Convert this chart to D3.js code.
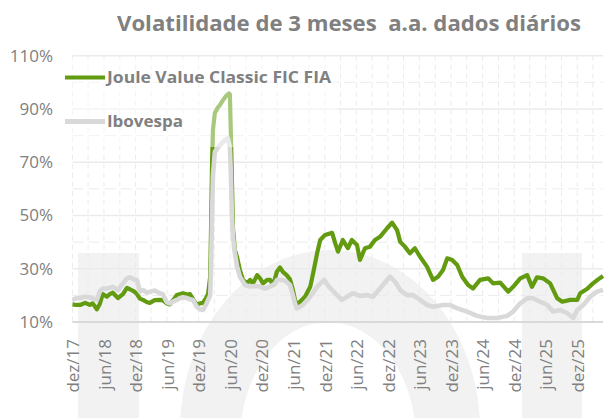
<!DOCTYPE html>
<html><head><meta charset="utf-8">
<script src="https://cdn.jsdelivr.net/npm/d3@7"></script>
<style>html,body{margin:0;padding:0;background:#fff;} svg{display:block;} text{white-space:pre;}</style>
</head><body>
<svg id="chart" width="613" height="418"></svg>
<script>
const chartTitle = "Volatilidade de 3 meses  a.a. dados diários";
const seriesNames = ["Joule Value Classic FIC FIA", "Ibovespa"];
const yMajorTicks = [10, 30, 50, 70, 90, 110];
const yMinorTicks = [20, 40, 60, 80, 100];
const xTickLabels = ["dez/17","jun/18","dez/18","jun/19","dez/19","jun/20","dez/20","jun/21","dez/21","jun/22","dez/22","jun/23","dez/23","jun/24","dez/24","jun/25","dez/25"];
const xTickDates = ["2017-12-01","2018-06-01","2018-12-01","2019-06-01","2019-12-01","2020-06-01","2020-12-01","2021-06-01","2021-12-01","2022-06-01","2022-12-01","2023-06-01","2023-12-01","2024-06-01","2024-12-01","2025-06-01","2025-12-01"];
const xDomain = ["2017-12-01", "2026-04-29"];

const jouleDates = ["2017-12-01","2017-12-21","2018-01-14","2018-02-12","2018-03-11","2018-03-28","2018-04-21","2018-05-08","2018-05-25","2018-06-18","2018-07-05","2018-07-22","2018-08-21","2018-09-19","2018-10-12","2018-10-29","2018-11-22","2018-12-09","2018-12-26","2019-01-13","2019-02-06","2019-02-22","2019-03-22","2019-04-20","2019-05-07","2019-05-30","2019-06-17","2019-07-10","2019-07-28","2019-09-02","2019-09-24","2019-10-12","2019-11-04","2019-11-21","2019-12-09","2019-12-26","2020-01-13","2020-01-25","2020-02-06","2020-02-11","2020-02-17","2020-02-22","2020-03-04","2020-03-21","2020-04-03","2020-04-20","2020-05-07","2020-05-24","2020-05-30","2020-06-05","2020-06-11","2020-06-17","2020-06-23","2020-06-28","2020-07-10","2020-07-27","2020-08-14","2020-09-07","2020-09-24","2020-10-11","2020-11-04","2020-11-21","2020-12-08","2021-01-01","2021-01-18","2021-02-05","2021-02-26","2021-03-16","2021-04-02","2021-04-25","2021-05-13","2021-05-30","2021-06-11","2021-06-22","2021-07-10","2021-08-08","2021-09-07","2021-09-24","2021-10-17","2021-11-04","2021-12-02","2022-01-12","2022-01-30","2022-02-15","2022-03-15","2022-04-13","2022-05-06","2022-06-05","2022-06-22","2022-07-21","2022-08-19","2022-09-17","2022-10-16","2022-11-26","2022-12-25","2023-01-23","2023-02-10","2023-03-09","2023-04-07","2023-05-06","2023-06-05","2023-07-15","2023-08-19","2023-09-17","2023-10-16","2023-11-09","2023-12-08","2024-01-06","2024-02-04","2024-03-09","2024-04-07","2024-05-17","2024-07-03","2024-08-01","2024-09-11","2024-10-27","2024-11-25","2025-01-05","2025-02-14","2025-03-14","2025-04-12","2025-05-17","2025-06-27","2025-08-07","2025-09-05","2025-10-21","2025-12-01","2025-12-18","2026-01-28","2026-03-02","2026-04-01","2026-04-29"];
const jouleVals = [16.6,16.4,16.4,17.2,16.4,17.0,14.8,16.8,20.5,19.5,20.5,21.0,19.0,20.5,22.8,22.3,21.5,20.5,18.8,18.3,17.4,17.2,18.2,18.3,18.2,17.0,16.6,18.5,20.1,20.8,20.3,20.5,18.0,16.5,17.0,17.2,19.0,20.5,27,45,70,82,88.5,90.5,91.5,93.3,94.8,95.8,95.5,80,63,45,40.8,37,34.5,29.5,25.8,24.6,25.8,24.5,27.6,26.4,24.5,25.8,25.8,23.9,28.9,30.5,28.8,27.5,26,22,18.3,16.4,17.6,19.5,23.2,28.3,35.8,40.8,42.7,43.5,39.5,36.4,40.8,37.7,40.8,38.9,33.3,37.7,38.3,40.8,42,45.2,47.3,44.5,40.1,38.3,35.8,37.7,34.5,30.8,25.8,27,29.5,33.9,33.3,31.4,27,23.9,22.6,25.8,26.4,24.5,24.8,21.4,23.2,26.4,27.6,23.2,26.8,26.4,24.5,18.9,17.6,18.3,18.3,20.8,22.5,24.5,26,27.3];

const iboDates = ["2017-12-01","2017-12-21","2018-01-14","2018-02-12","2018-03-11","2018-03-28","2018-04-21","2018-05-08","2018-05-25","2018-06-18","2018-07-22","2018-08-21","2018-09-19","2018-10-12","2018-10-29","2018-11-22","2018-12-09","2018-12-26","2019-01-13","2019-02-06","2019-02-22","2019-03-22","2019-04-20","2019-05-07","2019-05-30","2019-06-17","2019-07-10","2019-07-28","2019-08-14","2019-09-02","2019-09-24","2019-10-12","2019-10-29","2019-11-21","2019-12-09","2019-12-26","2020-01-13","2020-01-25","2020-02-06","2020-02-11","2020-02-17","2020-02-22","2020-03-04","2020-03-21","2020-04-03","2020-05-01","2020-05-18","2020-05-30","2020-06-05","2020-06-11","2020-06-17","2020-06-28","2020-07-10","2020-07-27","2020-08-26","2020-09-24","2020-10-23","2020-11-21","2020-12-20","2021-01-18","2021-02-16","2021-02-26","2021-04-02","2021-04-25","2021-05-13","2021-05-30","2021-06-11","2021-06-22","2021-07-27","2021-09-07","2021-10-17","2021-11-26","2021-12-25","2022-01-30","2022-03-09","2022-04-08","2022-05-12","2022-06-22","2022-08-02","2022-09-06","2022-10-16","2022-11-26","2022-12-13","2023-01-12","2023-02-10","2023-03-21","2023-04-25","2023-06-05","2023-07-15","2023-08-19","2023-10-16","2023-11-26","2024-01-06","2024-03-03","2024-04-30","2024-06-27","2024-08-24","2024-10-21","2024-11-25","2025-01-05","2025-02-14","2025-03-20","2025-04-30","2025-06-10","2025-07-14","2025-08-24","2025-10-04","2025-11-08","2025-12-01","2026-01-05","2026-02-14","2026-03-25","2026-04-29"];
const iboVals = [18.3,18.9,19.0,19.5,19.3,18.9,18.3,21.4,22.6,22.6,23.2,22.0,24.5,26.4,26.8,26.0,25.8,21.4,22.0,21.0,21.4,21.8,20.8,20.5,17.5,17.0,17.8,18.3,18.9,19.3,19.0,18.5,18.3,15.7,14.8,14.5,16.5,18.3,20,30,50,65,73.9,75.5,76.4,78.3,79,75.8,65,50,42,35.9,31,27,23.9,23.3,23.5,23.3,22.5,23.3,24.5,25.8,25.8,25,23.9,20,17,15.1,16.4,19.5,23.2,25.8,23.2,20.8,18.3,19.5,20.8,19.8,20.1,19.5,22.6,25.8,27,25.1,22,20.1,20.1,18.3,16.4,15.7,16.4,16.4,15.1,13.9,12.3,11.5,11.5,12.3,13.9,17,18.9,18.9,17.6,16.4,13.9,14.5,13.3,11.5,14.5,16.4,19.5,21.4,22];

const colors = {joule: "#629b10", ibov: "#d9d9d9", text: "#808080", grid: "#ebebeb", axis: "#d9d9d9", mark: "#f2f2f2"};

const svg = d3.select("#chart");
const parse = d3.timeParse("%Y-%m-%d");
const plot = {left: 72.5, right: 603, top: 55.7, bottom: 322};

const x = d3.scaleTime().domain(xDomain.map(parse)).range([plot.left, plot.right]);
const y = d3.scaleLinear().domain([10, 110]).range([plot.bottom, plot.top]);

// watermark (background logo)
const wm = svg.append("g").attr("fill", colors.mark);
wm.append("rect").attr("x", 78).attr("y", 253).attr("width", 61).attr("height", 170);
wm.append("path").attr("fill-rule", "evenodd")
  .attr("d", "M180,430 a150,180 0 1,0 300,0 a150,180 0 1,0 -300,0 Z M240,440 a88,118 0 1,0 176,0 a88,118 0 1,0 -176,0 Z");
wm.append("rect").attr("x", 522).attr("y", 253).attr("width", 60).attr("height", 170);

// gridlines
const grid = svg.append("g");
const minorMonths = d3.timeMonth.range(parse(xDomain[0]), parse(xDomain[1])).filter(d => (d.getMonth() + 1) % 3 === 0);
grid.selectAll("line.vx").data(minorMonths).join("line")
  .attr("x1", d => x(d)).attr("x2", d => x(d))
  .attr("y1", plot.top).attr("y2", plot.bottom)
  .attr("stroke", colors.grid).attr("stroke-width", 1).attr("stroke-dasharray", "5,4");
grid.selectAll("line.hm").data(yMinorTicks).join("line")
  .attr("x1", plot.left).attr("x2", plot.right)
  .attr("y1", d => y(d)).attr("y2", d => y(d))
  .attr("stroke", colors.grid).attr("stroke-width", 1).attr("stroke-dasharray", "11,5");
grid.selectAll("line.hM").data(yMajorTicks).join("line")
  .attr("x1", plot.left).attr("x2", plot.right)
  .attr("y1", d => y(d)).attr("y2", d => y(d))
  .attr("stroke", d => d === 10 ? colors.axis : colors.grid)
  .attr("stroke-width", d => d === 10 ? 2 : 1.4);

// y axis labels
const yAxis = d3.axisLeft(y).tickValues(yMajorTicks).tickFormat(d => d + "%").tickSize(0).tickPadding(0);
const gy = svg.append("g").attr("transform", "translate(53,0)").call(yAxis);
gy.select(".domain").remove();
gy.selectAll("text").attr("fill", colors.text).attr("font-family", "'Open Sans', sans-serif").attr("font-size", 17);

// x axis labels
const xAxis = d3.axisBottom(x).tickValues(xTickDates.map(parse))
  .tickFormat((d, i) => xTickLabels[i]).tickSize(0).tickPadding(0);
const gx = svg.append("g").attr("transform", "translate(0,339)").call(xAxis);
gx.select(".domain").remove();
gx.selectAll("text")
  .attr("fill", colors.text).attr("font-family", "'Open Sans', sans-serif").attr("font-size", 17)
  .attr("text-anchor", "end").attr("transform", "rotate(-90)")
  .attr("x", 0).attr("y", 0).attr("dy", "0.36em");

// lines
const line = d3.line().x(d => x(d[0])).y(d => y(d[1])).curve(d3.curveLinear);
const jouleData = jouleDates.map((d, i) => [parse(d), jouleVals[i]]);
const iboData = iboDates.map((d, i) => [parse(d), iboVals[i]]);
svg.append("path").datum(jouleData).attr("d", line).attr("fill", "none")
  .attr("stroke", colors.joule).attr("stroke-width", 4.2).attr("stroke-linejoin", "round");
svg.append("path").datum(iboData).attr("d", line).attr("fill", "none")
  .attr("stroke", colors.ibov).attr("stroke-width", 4.6).attr("stroke-linejoin", "round");

// legend (semi-transparent box)
const leg = svg.append("g");
leg.append("rect").attr("x", 60).attr("y", 58).attr("width", 278).attr("height", 89)
  .attr("fill", "#fff").attr("fill-opacity", 0.45);
const legItems = [
  {name: seriesNames[0], color: colors.joule, w: 4, y: 77.5, len: 224},
  {name: seriesNames[1], color: colors.ibov, w: 5, y: 121.5, len: 76}
];
legItems.forEach(it => {
  leg.append("line").attr("x1", 65).attr("x2", 105).attr("y1", it.y).attr("y2", it.y)
    .attr("stroke", it.color).attr("stroke-width", it.w);
  leg.append("text").attr("x", 107).attr("y", it.y).attr("dy", "0.36em")
    .attr("fill", colors.text).attr("font-family", "'Open Sans', sans-serif")
    .attr("font-weight", "bold").attr("font-size", 16.5)
    .attr("textLength", it.len).attr("lengthAdjust", "spacingAndGlyphs")
    .text(it.name);
});

// title
svg.append("text").attr("x", 349).attr("y", 31).attr("text-anchor", "middle")
  .attr("fill", colors.text).attr("font-family", "'Open Sans', sans-serif")
  .attr("font-weight", "bold").attr("font-size", 21.5)
  .attr("textLength", 464).attr("lengthAdjust", "spacingAndGlyphs")
  .text(chartTitle);
</script>
</body></html>
